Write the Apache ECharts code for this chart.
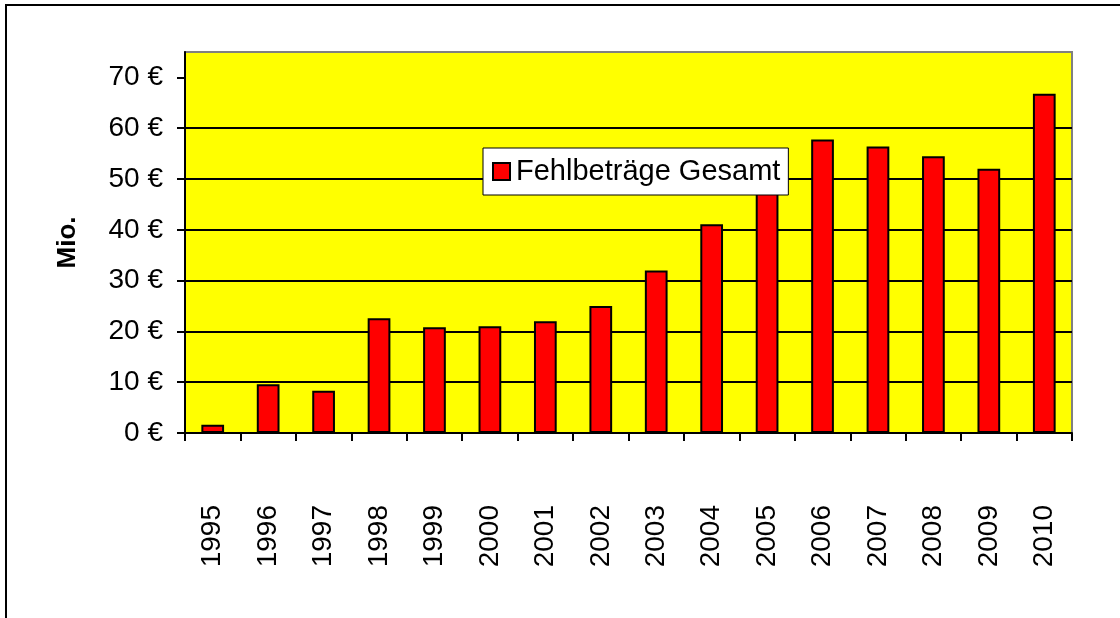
<!DOCTYPE html>
<html>
<head>
<meta charset="utf-8">
<script src="https://cdn.jsdelivr.net/npm/echarts@6/dist/echarts.min.js"></script>
<style>
html,body{margin:0;padding:0;background:#fff;}
#chart{width:1120px;height:618px;}
</style>
</head>
<body>
<div id="chart"></div>
<script>
var years = ['1995','1996','1997','1998','1999','2000','2001','2002','2003','2004','2005','2006','2007','2008','2009','2010'];
var fehlbetraege = [1.6, 9.6, 8.3, 22.6, 20.8, 21.0, 22.0, 25.0, 32.0, 41.1, 48.0, 57.8, 56.4, 54.5, 52.0, 66.8];
var yTicks = [0, 10, 20, 30, 40, 50, 60, 70];
var FONT = '"Liberation Sans", Arial, sans-serif';

var option = {
	animation: false,
	backgroundColor: '#fff',
	graphic: [{
		type: 'rect',
		shape: {x: 6, y: 5, width: 1300, height: 800},
		style: {fill: 'none', stroke: '#000', lineWidth: 2},
		z: 100
	}],
	legend: {
		data: ['Fehlbeträge Gesamt'],
		left: 483,
		top: 148,
		z: 10,
		backgroundColor: '#fff',
		borderColor: '#000',
		borderWidth: 1,
		padding: [9, 8, 9, 9],
		itemWidth: 17,
		itemHeight: 17,
		itemGap: 4,
		icon: 'rect',
		textStyle: {
			fontFamily: FONT,
			fontSize: 29,
			color: '#000',
			padding: [0, 0, 0, 1]
		}
	},
	grid: {
		left: 185,
		right: 48,
		top: 52,
		bottom: 185,
		show: true,
		backgroundColor: '#ffff00',
		borderColor: '#808080',
		borderWidth: 2
	},
	xAxis: {
		type: 'category',
		data: years,
		axisLine: {lineStyle: {color: '#000', width: 2}},
		axisTick: {show: true, length: 8, lineStyle: {color: '#000', width: 2}},
		axisLabel: {
			rotate: 90,
			margin: 72,
			fontFamily: FONT,
			fontSize: 28,
			color: '#000'
		}
	},
	yAxis: {
		type: 'value',
		min: 0,
		max: 75,
		interval: 10,
		name: 'Mio.',
		nameLocation: 'middle',
		nameGap: 104,
		nameTextStyle: {
			fontFamily: FONT,
			fontSize: 26,
			fontWeight: 'bold',
			color: '#000'
		},
		axisLine: {show: true, lineStyle: {color: '#000', width: 2}},
		axisTick: {show: true, length: 8, customValues: yTicks, lineStyle: {color: '#000', width: 2}},
		axisLabel: {
			customValues: yTicks,
			margin: 22,
			formatter: '{value} €',
			fontFamily: FONT,
			fontSize: 28,
			color: '#000'
		},
		splitLine: {
			show: true,
			showMinLine: false,
			showMaxLine: false,
			lineStyle: {color: '#000', width: 2}
		}
	},
	series: [{
		name: 'Fehlbeträge Gesamt',
		type: 'bar',
		data: fehlbetraege,
		barWidth: '41%',
		itemStyle: {
			color: '#ff0000',
			borderColor: '#000',
			borderWidth: 2
		}
	}]
};

var myChart = echarts.init(document.getElementById('chart'));
myChart.setOption(option);
</script>
</body>
</html>
